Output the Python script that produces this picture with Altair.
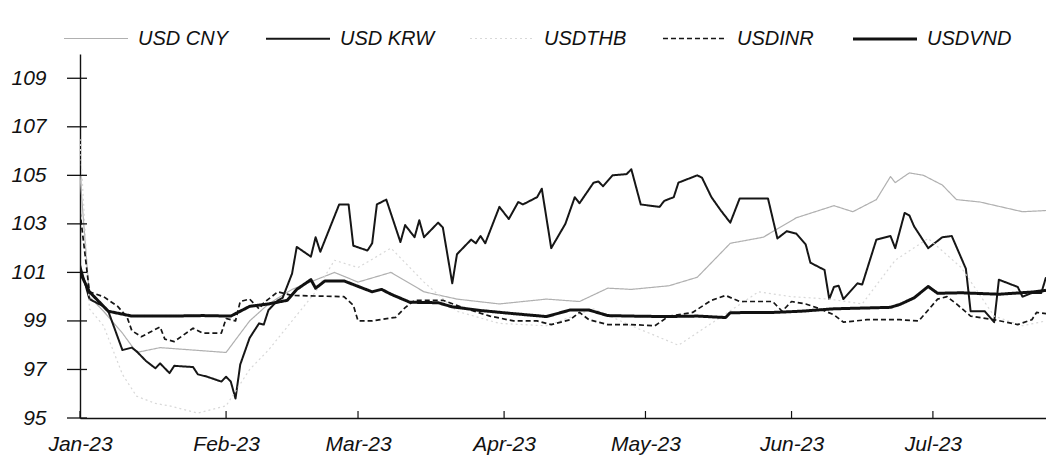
import altair as alt
import pandas as pd

series_names = ["USD CNY", "USD KRW", "USDTHB", "USDINR", "USDVND"]

cny_dates = ["2023-01-01", "2023-01-03", "2023-01-06", "2023-01-10", "2023-01-13", "2023-01-18", "2023-01-25",
             "2023-02-01", "2023-02-06", "2023-02-10", "2023-02-15", "2023-02-24", "2023-03-01", "2023-03-08",
             "2023-03-15", "2023-03-22", "2023-03-31", "2023-04-10", "2023-04-17", "2023-04-23", "2023-04-28",
             "2023-05-06", "2023-05-12", "2023-05-19", "2023-05-26", "2023-06-02", "2023-06-10", "2023-06-14",
             "2023-06-19", "2023-06-22", "2023-06-23", "2023-06-26", "2023-06-29", "2023-07-03", "2023-07-06",
             "2023-07-11", "2023-07-20", "2023-07-25"]
cny_values = [105.0, 100.0, 99.4, 98.5, 97.7, 97.9, 97.8,
              97.7, 99.0, 99.7, 100.3, 101.0, 100.6, 101.0,
              100.2, 99.9, 99.7, 99.9, 99.8, 100.35, 100.3,
              100.45, 100.8, 102.2, 102.45, 103.25, 103.75, 103.5,
              104.0, 104.95, 104.7, 105.1, 105.0, 104.6, 104.0,
              103.9, 103.5, 103.55]

krw_dates = ["2023-01-01", "2023-01-03", "2023-01-06", "2023-01-07", "2023-01-10", "2023-01-12", "2023-01-13",
             "2023-01-15", "2023-01-17", "2023-01-18", "2023-01-20", "2023-01-21", "2023-01-25", "2023-01-26",
             "2023-01-28", "2023-01-31", "2023-02-01", "2023-02-02", "2023-02-03", "2023-02-04", "2023-02-06",
             "2023-02-08", "2023-02-09", "2023-02-10", "2023-02-12", "2023-02-13", "2023-02-14", "2023-02-15",
             "2023-02-16", "2023-02-19", "2023-02-20", "2023-02-21", "2023-02-25", "2023-02-27", "2023-02-28",
             "2023-03-03", "2023-03-04", "2023-03-05", "2023-03-07", "2023-03-10", "2023-03-11", "2023-03-13",
             "2023-03-14", "2023-03-15", "2023-03-18", "2023-03-19", "2023-03-21", "2023-03-22", "2023-03-25",
             "2023-03-26", "2023-03-27", "2023-03-28", "2023-03-31", "2023-04-02", "2023-04-04", "2023-04-05",
             "2023-04-08", "2023-04-09", "2023-04-11", "2023-04-14", "2023-04-16", "2023-04-17", "2023-04-20",
             "2023-04-21", "2023-04-22", "2023-04-24", "2023-04-27", "2023-04-28", "2023-04-30", "2023-05-04",
             "2023-05-05", "2023-05-07", "2023-05-08", "2023-05-12", "2023-05-13", "2023-05-15", "2023-05-17",
             "2023-05-19", "2023-05-21", "2023-05-27", "2023-05-29", "2023-05-31", "2023-06-02", "2023-06-04",
             "2023-06-05", "2023-06-08", "2023-06-09", "2023-06-10", "2023-06-11", "2023-06-12", "2023-06-15",
             "2023-06-16", "2023-06-19", "2023-06-22", "2023-06-23", "2023-06-25", "2023-06-26", "2023-06-27",
             "2023-06-30", "2023-07-03", "2023-07-05", "2023-07-08", "2023-07-09", "2023-07-12", "2023-07-14",
             "2023-07-15", "2023-07-19", "2023-07-20", "2023-07-22", "2023-07-24", "2023-07-25"]
krw_values = [101.3, 99.9, 99.6, 99.4, 97.8, 97.9, 97.75,
              97.35, 97.05, 97.25, 96.85, 97.15, 97.1, 96.8,
              96.7, 96.5, 96.7, 96.5, 95.8, 97.2, 98.3,
              98.9, 98.85, 99.45, 99.85, 99.95, 100.45, 100.95,
              102.05, 101.65, 102.45, 101.85, 103.8, 103.8, 102.1,
              101.9, 102.2, 103.8, 104.0, 102.25, 102.95, 102.45,
              103.15, 102.45, 103.05, 102.85, 100.55, 101.75, 102.35,
              102.2, 102.5, 102.2, 103.7, 103.2, 103.9, 103.8,
              104.1, 104.45, 102.0, 103.0, 104.1, 103.85, 104.7,
              104.75, 104.55, 105.0, 105.05, 105.25, 103.8, 103.7,
              103.95, 104.1, 104.7, 105.0, 104.9, 104.1, 103.55,
              103.05, 104.05, 104.05, 102.4, 102.7, 102.6, 102.15,
              101.4, 101.1, 99.9, 100.4, 100.45, 99.9, 100.55,
              100.5, 102.35, 102.5, 102.0, 103.45, 103.35, 102.9,
              102.0, 102.45, 102.5, 101.15, 99.4, 99.4, 98.95,
              100.7, 100.4, 100.0, 100.15, 100.15, 100.8]

thb_dates = ["2023-01-01", "2023-01-03", "2023-01-06", "2023-01-10", "2023-01-13", "2023-01-17", "2023-01-20",
             "2023-01-26", "2023-02-01", "2023-02-06", "2023-02-10", "2023-02-15", "2023-02-20", "2023-02-24",
             "2023-03-01", "2023-03-08", "2023-03-15", "2023-03-22", "2023-03-31", "2023-04-10", "2023-04-20",
             "2023-04-28", "2023-05-08", "2023-05-15", "2023-05-25", "2023-06-01", "2023-06-09", "2023-06-16",
             "2023-06-23", "2023-06-30", "2023-07-07", "2023-07-14", "2023-07-20", "2023-07-25"]
thb_values = [106.5, 99.5, 98.8, 96.8, 95.9, 95.6, 95.5,
              95.2, 95.5, 97.0, 97.8, 99.0, 100.2, 101.5,
              101.2, 102.0, 100.6, 99.4, 98.9, 98.8, 99.5,
              98.8, 98.0, 98.9, 100.2, 100.0, 99.9, 99.7,
              101.5, 102.4, 101.2, 99.2, 98.8, 99.0]

inr_dates = ["2023-01-01", "2023-01-03", "2023-01-06", "2023-01-09", "2023-01-11", "2023-01-12", "2023-01-14",
             "2023-01-18", "2023-01-19", "2023-01-21", "2023-01-25", "2023-01-27", "2023-01-31", "2023-02-01",
             "2023-02-03", "2023-02-04", "2023-02-06", "2023-02-08", "2023-02-09", "2023-02-12", "2023-02-15",
             "2023-02-26", "2023-02-28", "2023-03-01", "2023-03-04", "2023-03-09", "2023-03-11", "2023-03-13",
             "2023-03-19", "2023-03-24", "2023-03-29", "2023-04-03", "2023-04-08", "2023-04-11", "2023-04-15",
             "2023-04-17", "2023-04-19", "2023-04-23", "2023-04-28", "2023-05-03", "2023-05-06", "2023-05-11",
             "2023-05-15", "2023-05-18", "2023-05-21", "2023-05-24", "2023-05-28", "2023-05-30", "2023-06-01",
             "2023-06-04", "2023-06-07", "2023-06-10", "2023-06-12", "2023-06-17", "2023-06-24", "2023-06-28",
             "2023-07-02", "2023-07-04", "2023-07-06", "2023-07-09", "2023-07-14", "2023-07-19", "2023-07-22",
             "2023-07-23", "2023-07-25"]
inr_values = [103.5, 100.2, 100.0, 99.6, 99.15, 98.6, 98.35,
              98.75, 98.25, 98.15, 98.7, 98.5, 98.5, 99.1,
              99.0, 99.8, 99.9, 99.5, 99.75, 100.2, 100.05,
              100.0, 99.65, 99.0, 99.0, 99.15, 99.55, 99.85,
              99.85, 99.5, 99.2, 99.0, 99.0, 98.85, 99.05,
              99.35, 99.05, 98.85, 98.85, 98.8, 99.2, 99.35,
              99.85, 100.05, 99.8, 99.8, 99.8, 99.4, 99.8,
              99.7, 99.5, 99.25, 98.95, 99.05, 99.05, 99.0,
              99.9, 100.0, 99.7, 99.2, 99.05, 98.85, 99.05,
              99.35, 99.3]

vnd_dates = ["2023-01-01", "2023-01-03", "2023-01-07", "2023-01-12", "2023-01-20", "2023-01-27", "2023-02-02",
             "2023-02-06", "2023-02-10", "2023-02-14", "2023-02-16", "2023-02-19", "2023-02-20", "2023-02-22",
             "2023-02-26", "2023-03-04", "2023-03-06", "2023-03-08", "2023-03-12", "2023-03-18", "2023-03-21",
             "2023-03-27", "2023-04-03", "2023-04-10", "2023-04-15", "2023-04-19", "2023-04-23", "2023-04-28",
             "2023-05-05", "2023-05-12", "2023-05-18", "2023-05-19", "2023-05-28", "2023-06-03", "2023-06-10",
             "2023-06-22", "2023-06-24", "2023-06-27", "2023-06-30", "2023-07-02", "2023-07-07", "2023-07-15",
             "2023-07-22", "2023-07-25"]
vnd_values = [101.0, 100.2, 99.4, 99.2, 99.2, 99.22, 99.2,
              99.6, 99.7, 99.85, 100.3, 100.7, 100.35, 100.65,
              100.65, 100.2, 100.3, 100.1, 99.77, 99.75, 99.58,
              99.43, 99.3, 99.18, 99.45, 99.45, 99.22, 99.2,
              99.18, 99.2, 99.14, 99.34, 99.35, 99.4, 99.5,
              99.56, 99.68, 99.95, 100.42, 100.14, 100.16, 100.1,
              100.19, 100.26]

month_ticks = ["2023-01-01", "2023-02-01", "2023-03-01", "2023-04-01", "2023-05-01", "2023-06-01", "2023-07-01"]
y_ticks = [95, 97, 99, 101, 103, 105, 107, 109]

line_colors = ["#b0b0b0", "#161616", "#d8d8d8", "#161616", "#111111"]
line_dashes = [[1, 0], [1, 0], [2, 3], [5, 3], [1, 0]]
line_widths = [1.2, 2.0, 1.2, 1.7, 3.0]

rows = []
for name, ds, vs in [("USD CNY", cny_dates, cny_values), ("USD KRW", krw_dates, krw_values),
                     ("USDTHB", thb_dates, thb_values), ("USDINR", inr_dates, inr_values),
                     ("USDVND", vnd_dates, vnd_values)]:
    for d, v in zip(ds, vs):
        rows.append({"series": name, "date": d, "value": v})
df = pd.DataFrame(rows)

FONT = "Liberation Sans"

x_scale = alt.Scale(type="utc", domain=[alt.DateTime(year=2023, month=1, date=1, utc=True),
                                        alt.DateTime(year=2023, month=7, date=25, utc=True)])
y_scale = alt.Scale(domain=[95, 110], nice=False, zero=False)

x_axis = alt.Axis(values=[alt.DateTime(year=2023, month=m, date=1, utc=True) for m in range(1, 8)],
                  labelExpr="utcFormat(datum.value, '%b-%y')", ticks=False, grid=False, title=None,
                  labelFont=FONT, labelFontSize=21, labelFontStyle="italic", labelColor="#111111",
                  labelPadding=15, domainColor="#111111", domainWidth=1.4, labelFlush=False)
y_axis = alt.Axis(values=y_ticks, ticks=False, grid=False, title=None, labelFont=FONT,
                  labelFontSize=21, labelFontStyle="italic", labelColor="#111111",
                  labelPadding=34, domainColor="#111111", domainWidth=1.4)

legend = alt.Legend(title=None, orient="none", legendX=-18, legendY=-49, direction="horizontal",
                    columns=5, symbolType="stroke", symbolSize=4100, labelFont=FONT,
                    labelFontSize=20, labelFontStyle="italic", labelColor="#111111",
                    labelOffset=8, columnPadding=32, labelLimit=200)

lines = alt.Chart(df).mark_line(clip=True, strokeJoin="round").encode(
    x=alt.X("date:T", scale=x_scale, axis=x_axis),
    y=alt.Y("value:Q", scale=y_scale, axis=y_axis),
    color=alt.Color("series:N", scale=alt.Scale(domain=series_names, range=line_colors), legend=legend),
    strokeDash=alt.StrokeDash("series:N", scale=alt.Scale(domain=series_names, range=line_dashes), legend=legend),
    strokeWidth=alt.StrokeWidth("series:N", scale=alt.Scale(type="ordinal", domain=series_names, range=line_widths),
                                legend=legend),
)

ytick_df = pd.DataFrame({"value": y_ticks})
yticks = alt.Chart(ytick_df).mark_rule(color="#111111", strokeWidth=1.3).encode(
    y=alt.Y("value:Q", scale=y_scale, axis=y_axis),
    x=alt.value(-13), x2=alt.value(7),
)

xtick_df = pd.DataFrame({"date": month_ticks})
xticks = alt.Chart(xtick_df).mark_rule(color="#111111", strokeWidth=1.2).encode(
    x=alt.X("date:T", scale=x_scale, axis=x_axis),
    y=alt.value(364), y2=alt.value(357),
)

chart = alt.layer(lines, yticks, xticks).properties(
    width=966, height=364,
    autosize=alt.AutoSizeParams(type="none"),
    padding={"left": 72, "top": 46, "right": 0, "bottom": 37},
    background="white",
).configure_view(strokeWidth=0)

chart.save("out.html", embed_options={"renderer": "svg", "actions": False})
